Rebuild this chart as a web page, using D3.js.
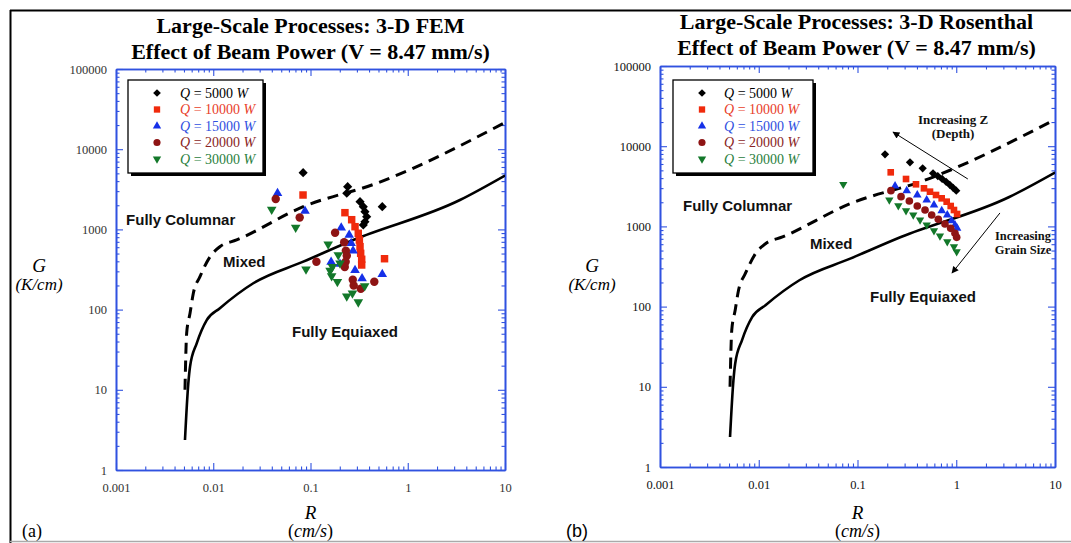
<!DOCTYPE html>
<html><head><meta charset="utf-8">
<script src="https://cdn.jsdelivr.net/npm/d3@7"></script>
<style>body{margin:0;background:#fff}svg{display:block}</style>
</head><body>
<svg id="c" width="1071" height="543"></svg>
<script>
// ---------- data ----------
const xTickValues = [0.001, 0.01, 0.1, 1, 10];
const xTickLabels = ["0.001", "0.01", "0.1", "1", "10"];
const yTickValues = [1, 10, 100, 1000, 10000, 100000];
const yTickLabels = ["1", "10", "100", "1000", "10000", "100000"];

// CET boundary curves (same in both panels)
const solidR = [0.00512, 0.00554, 0.00577, 0.00676, 0.00857, 0.0117, 0.0258, 0.0843, 0.275, 3.44, 10];
const solidG = [2.37, 12, 19.4, 38, 74, 104, 213, 396, 738, 2326, 4700];
const dashR = [0.00512, 0.00533, 0.00577, 0.00624, 0.0073, 0.00927, 0.0117, 0.0174, 0.0843, 0.479, 10];
const dashG = [10, 51, 90, 160, 257, 457, 608, 738, 1919, 3759, 21500];

const seriesNames = ["5000", "10000", "15000", "20000", "30000"];
const seriesColors = ["#000000", "#f02a0c", "#1530e8", "#8e1414", "#13782a"];
const legendTextColors = ["#000000", "#e8402a", "#3050e0", "#8a2424", "#2a8040"];

// Panel (a): 3-D FEM   [R (cm/s), G (K/cm)]
const fem5000 = [[0.084,5100],[0.241,3410],[0.236,2820],[0.323,2217],[0.349,1920],[0.363,1662],[0.378,1440],[0.363,1247],[0.349,1135],[0.547,1920]];
const fem10000 = [[0.0838,2685],[0.226,1616],[0.265,1321],[0.287,1081],[0.310,894],[0.318,738],[0.323,609],[0.328,503],[0.336,424],[0.336,360],[0.577,431]];
const fem15000 = [[0.0458,2820],[0.0878,1696],[0.207,1050],[0.250,851],[0.262,670],[0.274,541],[0.163,392],[0.201,370],[0.287,309],[0.339,244],[0.547,276]];
const fem20000 = [[0.0439,2393],[0.0774,1407],[0.179,907],[0.222,692],[0.231,541],[0.236,469],[0.230,396],[0.225,340],[0.115,394],[0.272,236],[0.278,200],[0.329,182],[0.453,223]];
const fem30000 = [[0.0399,1771],[0.0704,1057],[0.0899,319],[0.152,654],[0.193,480],[0.201,378],[0.168,343],[0.159,306],[0.165,262],[0.189,223],[0.236,147],[0.270,160],[0.310,124],[0.361,197]];

// Panel (b): 3-D Rosenthal
const ros5000 = [[0.190,7925],[0.340,6300],[0.457,5300],[0.582,4590],[0.65,4250],[0.72,3900],[0.79,3600],[0.86,3300],[0.93,3030],[1.0,2790]];
const ros10000 = [[0.217,4725],[0.310,3900],[0.391,3350],[0.471,2985],[0.542,2710],[0.624,2464],[0.712,2240],[0.800,2033],[0.879,1796],[0.948,1601],[1.02,1428]];
const ros15000 = [[0.240,3190],[0.315,2790],[0.403,2464],[0.502,2134],[0.595,1849],[0.713,1570],[0.811,1387],[0.899,1178],[0.971,1041],[1.02,946]];
const ros20000 = [[0.218,2790],[0.276,2348],[0.335,2074],[0.403,1796],[0.483,1601],[0.564,1387],[0.658,1225],[0.769,1071],[0.879,946],[0.971,820],[1.01,731]];
const ros30000 = [[0.0718,3350],[0.210,2134],[0.259,1812],[0.310,1570],[0.367,1387],[0.430,1202],[0.502,1041],[0.595,884],[0.684,759],[0.811,645],[0.948,558],[1.01,484]];

// ---------- drawing ----------
const svg = d3.select("#c");
const BLUE = "#3052e0";
const SERIF = "'Liberation Serif','Times New Roman',serif";
const SANS = "'Liberation Sans',Arial,Helvetica,sans-serif";

// outer frame
svg.append("line").attr("x1",10).attr("x2",1071).attr("y1",10.5).attr("y2",10.5).attr("stroke","#000").attr("stroke-width",2);
svg.append("line").attr("x1",10.5).attr("x2",10.5).attr("y1",10).attr("y2",543).attr("stroke","#000").attr("stroke-width",2);
svg.append("line").attr("x1",10).attr("x2",1071).attr("y1",541.5).attr("y2",541.5).attr("stroke","#aaa").attr("stroke-width",1.5);

const minorX = [];
for (let e = -3; e <= 0; e++) for (let k = 2; k <= 9; k++) minorX.push(k * Math.pow(10, e));
const minorY = [];
for (let e = 0; e <= 4; e++) for (let k = 2; k <= 9; k++) minorY.push(k * Math.pow(10, e));

const shapes = [
  {type: d3.symbolSquare, rot: 45},
  {type: d3.symbolSquare, rot: 0},
  {type: d3.symbolTriangle, rot: 0},
  {type: d3.symbolCircle, rot: 0},
  {type: d3.symbolTriangle, rot: 180}
];

function drawPanel(cfg) {
  const {x0, x1, y0, y1, id} = cfg;
  const g = svg.append("g");
  const xs = d3.scaleLog().domain([0.001, 10]).range([x0, x1]);
  const ys = d3.scaleLog().domain([1, 100000]).range([y1, y0]);

  g.append("clipPath").attr("id", "clip" + id).append("rect")
    .attr("x", x0).attr("y", y0).attr("width", x1 - x0).attr("height", y1 - y0);

  function styleAxis(sel) {
    sel.attr("font-family", SERIF).attr("font-size", 12.5);
    sel.selectAll("path.domain").attr("stroke", BLUE).attr("stroke-width", 1.6);
    sel.selectAll(".tick line").attr("stroke", BLUE).attr("stroke-width", 1.1);
    sel.selectAll("text").attr("font-family", SERIF).attr("font-size", 12.5).attr("fill", cfg.labelColor);
  }
  const ax = [
    g.append("g").attr("transform", `translate(0,${y1})`).call(d3.axisBottom(xs).tickValues(xTickValues).tickFormat((d,i)=>xTickLabels[i]).tickSize(-7).tickSizeOuter(0).tickPadding(13)),
    g.append("g").attr("transform", `translate(0,${y1})`).call(d3.axisBottom(xs).tickValues(minorX).tickFormat("").tickSize(-3.5).tickSizeOuter(0)),
    g.append("g").attr("transform", `translate(0,${y0})`).call(d3.axisTop(xs).tickValues(xTickValues).tickFormat("").tickSize(-7).tickSizeOuter(0)),
    g.append("g").attr("transform", `translate(0,${y0})`).call(d3.axisTop(xs).tickValues(minorX).tickFormat("").tickSize(-3.5).tickSizeOuter(0)),
    g.append("g").attr("transform", `translate(${x0},0)`).call(d3.axisLeft(ys).tickValues(yTickValues).tickFormat((d,i)=>yTickLabels[i]).tickSize(-7).tickSizeOuter(0).tickPadding(9)),
    g.append("g").attr("transform", `translate(${x0},0)`).call(d3.axisLeft(ys).tickValues(minorY).tickFormat("").tickSize(-3.5).tickSizeOuter(0)),
    g.append("g").attr("transform", `translate(${x1},0)`).call(d3.axisRight(ys).tickValues(yTickValues).tickFormat("").tickSize(-7).tickSizeOuter(0)),
    g.append("g").attr("transform", `translate(${x1},0)`).call(d3.axisRight(ys).tickValues(minorY).tickFormat("").tickSize(-3.5).tickSizeOuter(0))
  ];
  ax.forEach(styleAxis);

  // boundary curves
  const line = d3.line().x(d => xs(d[0])).y(d => ys(d[1])).curve(d3.curveMonotoneX);
  const cg = g.append("g").attr("clip-path", `url(#clip${id})`);
  cg.append("path").datum(dashR.map((r,i)=>[r, dashG[i]])).attr("d", line)
    .attr("fill","none").attr("stroke","#000").attr("stroke-width",3).attr("stroke-dasharray","11,7");
  cg.append("path").datum(solidR.map((r,i)=>[r, solidG[i]])).attr("d", line)
    .attr("fill","none").attr("stroke","#000").attr("stroke-width",2.6);

  // region labels
  cfg.regions.forEach(t => {
    g.append("text").attr("x", xs(t.r)).attr("y", ys(t.g)).text(t.text)
      .attr("font-family", SANS).attr("font-weight","bold").attr("font-size", 15).attr("fill","#111");
  });

  // points
  cfg.series.forEach((pts, si) => {
    const sh = shapes[si];
    const gen = d3.symbol().type(sh.type).size(cfg.sizes[si]);
    g.append("g").selectAll("path").data(pts).join("path")
      .attr("d", gen)
      .attr("transform", d => `translate(${xs(d[0])},${ys(d[1])}) rotate(${sh.rot})`)
      .attr("fill", seriesColors[si]);
  });

  // legend
  const L = cfg.legend;
  g.append("rect").attr("x", L.x + 3).attr("y", L.y + 3).attr("width", L.w).attr("height", L.h).attr("fill", "#000");
  g.append("rect").attr("x", L.x).attr("y", L.y).attr("width", L.w).attr("height", L.h)
    .attr("fill", "#fff").attr("stroke", "#000").attr("stroke-width", 1.3);
  seriesNames.forEach((n, i) => {
    const yy = L.y + 13 + i * 16.5;
    const sh = shapes[i];
    g.append("path").attr("d", d3.symbol().type(sh.type).size(L.symSizes[i])())
      .attr("transform", `translate(${L.x + L.sx},${yy}) rotate(${sh.rot})`).attr("fill", seriesColors[i]);
    const t = g.append("text").attr("x", L.x + L.tx).attr("y", yy + 4.5)
      .attr("font-family", SERIF).attr("font-size", 14).attr("fill", legendTextColors[i]);
    t.append("tspan").attr("font-style","italic").text("Q");
    t.append("tspan").text(" = " + n + " ");
    t.append("tspan").attr("font-style","italic").text("W");
  });

  // titles
  cfg.title.forEach((s, i) => {
    g.append("text").attr("x", (x0 + x1) / 2 + cfg.titleDx).attr("y", cfg.titleY[i]).attr("text-anchor","middle")
      .attr("font-family", SERIF).attr("font-weight","bold").attr("font-size", 22).text(s);
  });

  // axis titles
  const cx = (x0 + x1) / 2;
  g.append("text").attr("x", cx).attr("y", 519).attr("text-anchor","middle").attr("font-family", SERIF)
    .attr("font-style","italic").attr("font-size", 19).text("R");
  const u = g.append("text").attr("x", cx).attr("y", 537).attr("text-anchor","middle").attr("font-family", SERIF).attr("font-size", 18);
  u.append("tspan").text("(");
  u.append("tspan").attr("font-style","italic").text("cm/s");
  u.append("tspan").text(")");

  g.append("text").attr("x", cfg.gx).attr("y", 272).attr("text-anchor","middle").attr("font-family", SERIF)
    .attr("font-style","italic").attr("font-size", 19).text("G");
  g.append("text").attr("x", cfg.gx).attr("y", 290).attr("text-anchor","middle").attr("font-family", SERIF)
    .attr("font-style","italic").attr("font-size", 17).text("(K/cm)");

  g.append("text").attr("x", cfg.tag.x).attr("y", 537).attr("font-family", cfg.tag.font)
    .attr("font-size", 18).text(cfg.tag.text);

  return {g, xs, ys};
}

drawPanel({
  id: "a", x0: 116, x1: 505, y0: 69, y1: 470, labelColor: "#333",
  series: [fem5000, fem10000, fem15000, fem20000, fem30000],
  sizes: [42, 56, 40, 56, 40],
  regions: [
    {text: "Fully Columnar", r: 0.00127, g: 1135},
    {text: "Mixed", r: 0.0126, g: 340},
    {text: "Fully Equiaxed", r: 0.0646, g: 45.5}
  ],
  legend: {x: 128, y: 80, w: 135, h: 93, sx: 29, tx: 52, symSizes: [30, 40, 30, 40, 30]},
  title: ["Large-Scale Processes: 3-D FEM", "Effect of Beam Power (V = 8.47 mm/s)"],
  titleY: [33, 59], titleDx: 0,
  gx: 39,
  tag: {x: 22, text: "(a)", font: SERIF}
});

const pb = drawPanel({
  id: "b", x0: 660, x1: 1055, y0: 66, y1: 467, labelColor: "#111",
  series: [ros5000, ros10000, ros15000, ros20000, ros30000],
  sizes: [34, 44, 32, 46, 30],
  regions: [
    {text: "Fully Columnar", r: 0.00171, g: 1556},
    {text: "Mixed", r: 0.033, g: 523},
    {text: "Fully Equiaxed", r: 0.134, g: 114}
  ],
  legend: {x: 673, y: 80, w: 140, h: 93, sx: 29, tx: 51, symSizes: [30, 40, 30, 40, 30]},
  title: ["Large-Scale Processes: 3-D Rosenthal", "Effect of Beam Power (V = 8.47 mm/s)"],
  titleY: [29, 55], titleDx: -1,
  gx: 592,
  tag: {x: 566, text: "(b)", font: SANS}
});

// annotations in panel (b), positioned in data coordinates
const annText = [
  {lines: ["Increasing Z", "(Depth)"], r: 0.927, g: 18900, size: 13},
  {lines: ["Increasing", "Grain Size"], r: 4.74, g: 677, size: 12.5}
];
const annArrows = [
  {from: [1.31, 3900], to: [0.229, 15000]},
  {from: [2.77, 1470], to: [0.906, 262]}
];
const defs = svg.append("defs");
defs.append("marker").attr("id","ah").attr("viewBox","0 0 10 10").attr("refX",9).attr("refY",5)
  .attr("markerWidth",9).attr("markerHeight",7).attr("orient","auto").attr("markerUnits","userSpaceOnUse")
  .append("path").attr("d","M0,0 L10,5 L0,10 z").attr("fill","#000");
annArrows.forEach(a => {
  pb.g.append("line").attr("x1", pb.xs(a.from[0])).attr("y1", pb.ys(a.from[1]))
    .attr("x2", pb.xs(a.to[0])).attr("y2", pb.ys(a.to[1]))
    .attr("stroke","#000").attr("stroke-width",1).attr("marker-end","url(#ah)");
});
annText.forEach(a => {
  a.lines.forEach((s, i) => {
    pb.g.append("text").attr("x", pb.xs(a.r)).attr("y", pb.ys(a.g) + i * 14).attr("text-anchor","middle")
      .attr("font-family", SERIF).attr("font-weight","bold").attr("font-size", a.size).attr("fill","#111").text(s);
  });
});
</script>
</body></html>
